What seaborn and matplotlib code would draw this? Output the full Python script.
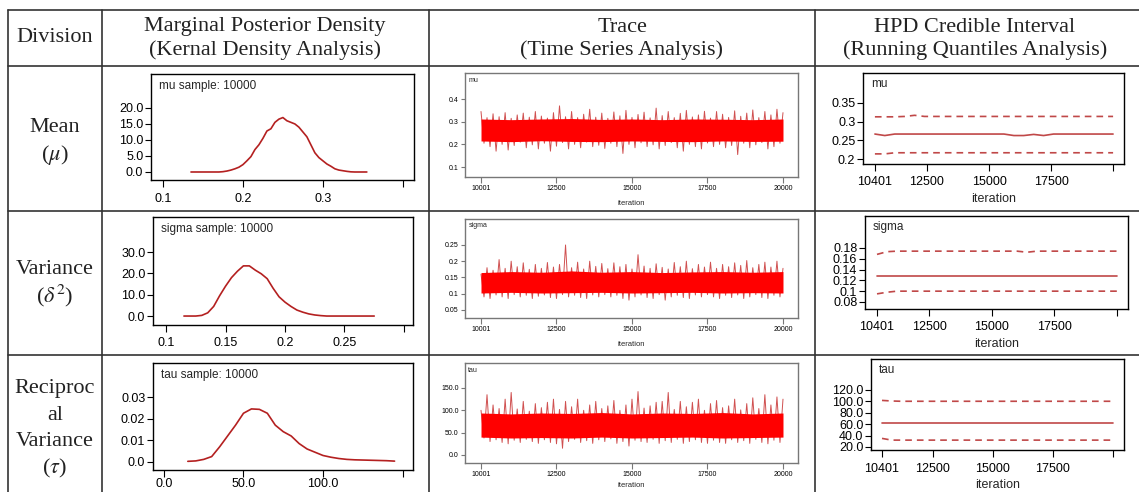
import numpy as np
import matplotlib
matplotlib.use("Agg")
import matplotlib.pyplot as plt
import seaborn as sns

W, H = 1139, 492

# ---- table text
head_division = "Division"
head_density = ["Marginal Posterior Density", "(Kernal Density Analysis)"]
head_trace = ["Trace", "(Time Series Analysis)"]
head_hpd = ["HPD Credible Interval", "(Running Quantiles Analysis)"]
row_labels = [["Mean", r"($\mu$)"],
              ["Variance", r"($\delta^2$)"],
              ["Reciproc", "al", "Variance", r"($\tau$)"]]
params = ["mu", "sigma", "tau"]
sample_size = 10000

# ---- kernel density curves (x range + density values on an even grid)
mu_dens_range = (0.135, 0.355)
mu_dens = [0, 0, 0, 0, 0, 0, 0, 0, 0.1, 0.3,
           0.6, 1.0, 1.5, 2.3, 3.5, 4.8, 7.0, 8.5, 10.5, 12.8,
           13.5, 15.5, 16.5, 17.0, 16.0, 15.5, 15.0, 14.0, 12.5, 11.0,
           8.5, 6.0, 4.5, 3.5, 2.5, 1.8, 1.0, 0.6, 0.4, 0.2,
           0.05, 0, 0, 0, 0]
sigma_dens_range = (0.115, 0.275)
sigma_dens = [0, 0, 0, 0.3, 1.5, 4.5, 9.5, 14.0, 18.0, 21.0,
              23.5, 23.5, 21.5, 19.8, 17.5, 13.0, 9.0, 6.5, 4.5, 2.8,
              1.8, 1.0, 0.5, 0.2, 0, 0, 0, 0, 0, 0,
              0, 0, 0]
tau_dens_range = (15, 145)
tau_dens = [0.0003, 0.0005, 0.0012, 0.0025, 0.007, 0.012, 0.017, 0.0225, 0.0245, 0.0243,
            0.0225, 0.017, 0.014, 0.012, 0.0085, 0.006, 0.0045, 0.003, 0.0022, 0.0016,
            0.0012, 0.001, 0.0009, 0.0008, 0.0007, 0.0006, 0.0004]

# ---- traces: thinned chain (every 100 iterations), alternating high / low draws
trace_iter = [10001] + list(range(10100, 20001, 100))
core_iter = [10001, 11000, 12000, 13000, 14000, 15000, 16000, 17000, 18000, 19000, 20000]
mu_peak = [0.345, 0.318, 0.335, 0.322, 0.34, 0.315, 0.33, 0.338, 0.32, 0.345,
           0.325, 0.316, 0.34, 0.37, 0.322, 0.345, 0.318, 0.333, 0.355, 0.32,
           0.338, 0.315, 0.343, 0.326, 0.35, 0.319, 0.332, 0.342, 0.317, 0.36,
           0.327, 0.345, 0.318, 0.337, 0.35, 0.321, 0.33, 0.346, 0.316, 0.345,
           0.333, 0.319, 0.348, 0.324, 0.338, 0.352, 0.318, 0.345, 0.33, 0.355,
           0.34]
mu_dip = [0.205, 0.19, 0.17, 0.2, 0.175, 0.195, 0.21, 0.185, 0.198, 0.18,
          0.205, 0.17, 0.192, 0.208, 0.18, 0.2, 0.185, 0.21, 0.19, 0.196,
          0.182, 0.205, 0.19, 0.16, 0.2, 0.185, 0.207, 0.19, 0.198, 0.18,
          0.195, 0.208, 0.185, 0.17, 0.2, 0.19, 0.18, 0.206, 0.19, 0.2,
          0.185, 0.195, 0.155, 0.205, 0.185, 0.198, 0.208, 0.18, 0.19, 0.205]
mu_core_lo = [0.215, 0.212, 0.216, 0.213, 0.212, 0.215, 0.213, 0.212, 0.215, 0.213, 0.214]
mu_core_hi = [0.312, 0.309, 0.312, 0.314, 0.31, 0.312, 0.309, 0.312, 0.311, 0.309, 0.312]

sigma_peak = [0.16, 0.18, 0.172, 0.205, 0.178, 0.2, 0.183, 0.195, 0.175, 0.19,
              0.178, 0.196, 0.182, 0.19, 0.25, 0.18, 0.197, 0.176, 0.2, 0.184,
              0.193, 0.177, 0.195, 0.183, 0.19, 0.176, 0.22, 0.185, 0.178, 0.192,
              0.181, 0.176, 0.196, 0.183, 0.2, 0.177, 0.19, 0.182, 0.197, 0.178,
              0.19, 0.183, 0.195, 0.187, 0.202, 0.18, 0.19, 0.197, 0.182, 0.2,
              0.178]
sigma_dip = [0.09, 0.085, 0.096, 0.09, 0.085, 0.097, 0.09, 0.095, 0.085, 0.092,
             0.096, 0.088, 0.085, 0.097, 0.09, 0.095, 0.088, 0.085, 0.096, 0.09,
             0.097, 0.09, 0.095, 0.085, 0.08, 0.09, 0.096, 0.088, 0.085, 0.097,
             0.08, 0.09, 0.095, 0.088, 0.085, 0.096, 0.09, 0.097, 0.09, 0.085,
             0.095, 0.088, 0.096, 0.085, 0.09, 0.097, 0.088, 0.085, 0.095, 0.09]
sigma_core_lo = [0.102, 0.104, 0.102, 0.103, 0.104, 0.102, 0.103, 0.104, 0.102, 0.103, 0.102]
sigma_core_hi = [0.165, 0.168, 0.166, 0.17, 0.166, 0.168, 0.165, 0.167, 0.168, 0.166, 0.168]

tau_peak = [100, 135, 112, 104, 125, 140, 103, 120, 98, 115,
            106, 118, 125, 102, 120, 108, 125, 100, 112, 120,
            104, 110, 122, 100, 112, 125, 142, 105, 110, 118,
            120, 140, 102, 120, 108, 118, 125, 100, 115, 122,
            106, 110, 125, 101, 115, 128, 104, 135, 112, 130,
            125]
tau_dip = [38, 30, 34, 28, 25, 33, 28, 35, 30, 26,
           34, 28, 25, 15, 30, 35, 28, 32, 26, 34,
           30, 36, 26, 30, 20, 33, 30, 28, 35, 26,
           32, 28, 35, 26, 30, 34, 28, 26, 33, 28,
           26, 34, 28, 32, 26, 35, 28, 25, 33, 28]
tau_core_lo = [40, 38, 39, 38, 40, 38, 39, 40, 38, 39, 40]
tau_core_hi = [94, 92, 94, 93, 95, 92, 94, 93, 95, 92, 94]

# ---- running quantiles (HPD)
hpd_iter = [10401, 10800, 11200, 11600, 12000, 12400, 12800, 13200, 13600, 14000,
            14400, 14800, 15200, 15600, 16000, 16400, 16800, 17200, 17600, 18000,
            18400, 18800, 19200, 19600, 20000]
mu_hpd_med = [0.267, 0.263, 0.267, 0.267, 0.267, 0.267, 0.267, 0.267, 0.267, 0.267,
              0.267, 0.267, 0.267, 0.267, 0.263, 0.263, 0.266, 0.263, 0.267, 0.267,
              0.267, 0.267, 0.267, 0.267, 0.267]
mu_hpd_up = [0.313, 0.313, 0.313, 0.314, 0.317, 0.314, 0.314, 0.314, 0.314, 0.314,
             0.314, 0.314, 0.314, 0.314, 0.314, 0.314, 0.314, 0.314, 0.314, 0.314,
             0.314, 0.314, 0.314, 0.314, 0.314]
mu_hpd_lo = [0.214, 0.214, 0.217, 0.217, 0.217, 0.217, 0.217, 0.217, 0.217, 0.217,
             0.217, 0.217, 0.217, 0.217, 0.217, 0.217, 0.217, 0.217, 0.217, 0.217,
             0.217, 0.217, 0.217, 0.217, 0.217]
sigma_hpd_med = [0.128] * 25
sigma_hpd_up = [0.168, 0.173, 0.174, 0.174, 0.174, 0.174, 0.174, 0.174, 0.174, 0.174,
                0.174, 0.174, 0.174, 0.174, 0.174, 0.172, 0.174, 0.174, 0.174, 0.174,
                0.174, 0.174, 0.174, 0.174, 0.174]
sigma_hpd_lo = [0.095, 0.098, 0.1, 0.1, 0.1, 0.1, 0.1, 0.1, 0.1, 0.1,
                0.1, 0.1, 0.1, 0.1, 0.1, 0.1, 0.1, 0.1, 0.1, 0.1,
                0.1, 0.1, 0.1, 0.1, 0.1]
tau_hpd_med = [62] * 25
tau_hpd_up = [101.5, 100.5, 100, 100, 100, 100, 100, 100, 100, 100,
              100, 100, 100, 100, 100, 100, 100, 100, 100, 100,
              100, 100, 100, 100, 100]
tau_hpd_lo = [35, 32, 32, 32, 32, 32, 32, 32, 32, 32,
              32, 32, 32, 32, 32, 32, 32, 32, 32, 32,
              32, 32, 32, 32, 32]

# ---- tick values / labels
dens_xticks = [[0.1, 0.2, 0.3, 0.4], [0.1, 0.15, 0.2, 0.25, 0.3], [0, 50, 100, 150]]
dens_xlabels = [["0.1", "0.2", "0.3", ""], ["0.1", "0.15", "0.2", "0.25", ""],
                ["0.0", "50.0", "100.0", ""]]
dens_yticks = [[0, 5, 10, 15, 20], [0, 10, 20, 30], [0, 0.01, 0.02, 0.03]]
dens_ylabels = [["0.0", "5.0", "10.0", "15.0", "20.0"], ["0.0", "10.0", "20.0", "30.0"],
                ["0.0", "0.01", "0.02", "0.03"]]
trace_xticks = [10001, 12500, 15000, 17500, 20000]
trace_yticks = [[0.1, 0.2, 0.3, 0.4], [0.05, 0.1, 0.15, 0.2, 0.25], [0, 50, 100, 150]]
trace_ylabels = [["0.1", "0.2", "0.3", "0.4"], ["0.05", "0.1", "0.15", "0.2", "0.25"],
                 ["0.0", "50.0", "100.0", "150.0"]]
hpd_xticks = [10401, 12500, 15000, 17500, 20000]
hpd_xlabels = ["10401", "12500", "15000", "17500", ""]
hpd_yticks = [[0.2, 0.25, 0.3, 0.35], [0.08, 0.1, 0.12, 0.14, 0.16, 0.18],
              [20, 40, 60, 80, 100, 120]]
hpd_ylabels = [["0.2", "0.25", "0.3", "0.35"], ["0.08", "0.1", "0.12", "0.14", "0.16", "0.18"],
               ["20.0", "40.0", "60.0", "80.0", "100.0", "120.0"]]

sns.set_style("ticks")
plt.rcParams["font.family"] = ["Liberation Sans", "DejaVu Sans"]
plt.rcParams["mathtext.fontset"] = "stix"
serif = ["Liberation Serif", "DejaVu Serif"]

fig = plt.figure(figsize=(W / 100, H / 100), dpi=100)
bg = fig.add_axes([0, 0, 1, 1])
bg.set_xlim(0, W)
bg.set_ylim(H, 0)
bg.axis("off")

# table grid
for y in [10, 66, 211, 355]:
    bg.plot([8, W], [y, y], color="#333333", lw=1.2)
for x in [8, 102, 429, 815]:
    bg.plot([x, x], [10, H], color="#333333", lw=1.2)

txt = dict(ha="center", va="center", fontsize=16, family=serif, color="#222222")
bg.text(55, 38, head_division, **txt)
for cx, lines in zip([265, 622, 975], [head_density, head_trace, head_hpd]):
    bg.text(cx, 27, lines[0], **txt)
    bg.text(cx, 50, lines[1], **txt)

row_text_y = [[128, 155], [270, 296], [388, 415, 442, 468]]
for labels, ys in zip(row_labels, row_text_y):
    for lab, y in zip(labels, ys):
        bg.text(55, y, lab, **txt)


def panel(l, t, r, b):
    return fig.add_axes([l / W, 1 - b / H, (r - l) / W, (b - t) / H])


def frame(ax, color, lw, size, tick_len, xpad=1.5):
    for s in ax.spines.values():
        s.set_visible(True)
        s.set_color(color)
        s.set_linewidth(lw)
    ax.tick_params(direction="out", length=tick_len, width=0.8, color=color,
                   labelsize=size, pad=1.5, labelcolor="black")
    ax.tick_params(axis="x", length=tick_len + 1, pad=xpad)
    ax.set_xlabel("")
    ax.set_ylabel("")


# ---- kernel density column
dens_boxes = [(151, 74, 414, 180), (153, 217, 413, 325), (153, 363, 413, 470)]
dens_xlim = [(0.085, 0.414), (0.089, 0.3076), (-6.9, 156.6)]
dens_ylim = [(-2.5, 30.6), (-4.2, 46.4), (-0.0037, 0.0457)]
dens_xpad = [4, 4, 0.5]
dens_data = [(mu_dens_range, mu_dens), (sigma_dens_range, sigma_dens), (tau_dens_range, tau_dens)]
for i, ((lo, hi), dens) in enumerate(dens_data):
    ax = panel(*dens_boxes[i])
    xs = np.linspace(lo, hi, len(dens))
    sns.lineplot(x=xs, y=dens, ax=ax, color="#b42020", lw=1.2)
    ax.set_xlim(*dens_xlim[i])
    ax.set_ylim(*dens_ylim[i])
    ax.set_xticks(dens_xticks[i], labels=dens_xlabels[i])
    ax.set_yticks(dens_yticks[i], labels=dens_ylabels[i])
    frame(ax, "black", 1.0, 9, 4, xpad=dens_xpad[i])
    ax.text(0.03, 1 - 12 / (dens_boxes[i][3] - dens_boxes[i][1]),
            f"{params[i]} sample: {sample_size}", transform=ax.transAxes,
            fontsize=8.5, va="center", ha="left")

# ---- trace column
trace_boxes = [(465, 73, 798, 177), (465, 219, 798, 318), (465, 363, 798, 463)]
trace_ylim = [(0.056, 0.515), (0.025, 0.33), (-18, 206)]
trace_data = [(mu_peak, mu_dip, mu_core_lo, mu_core_hi),
              (sigma_peak, sigma_dip, sigma_core_lo, sigma_core_hi),
              (tau_peak, tau_dip, tau_core_lo, tau_core_hi)]
for i, (peak, dip, clo, chi) in enumerate(trace_data):
    ax = panel(*trace_boxes[i])
    chain = np.empty(len(peak) + len(dip))
    chain[0::2] = peak
    chain[1::2] = dip
    sns.lineplot(x=trace_iter, y=chain, ax=ax, color="#d05050", lw=0.7, zorder=1)
    ax.fill_between(core_iter, clo, chi, color="#ff0000", lw=0, zorder=2)
    ax.set_xlim(9471, 20497)
    ax.set_ylim(*trace_ylim[i])
    ax.set_xticks(trace_xticks, labels=[str(t) for t in trace_xticks])
    ax.set_yticks(trace_yticks[i], labels=trace_ylabels[i])
    frame(ax, "#777777", 1.0, 5, 3)
    ax.set_xlabel("iteration", fontsize=5.5, labelpad=6 if i < 2 else 3)
    ax.text(0.01, 0.93, params[i], transform=ax.transAxes, fontsize=5,
            va="center", ha="left")

# ---- HPD column
hpd_boxes = [(863, 73, 1124, 164), (865, 216, 1128, 309), (871, 359, 1124, 450)]
hpd_xlim = [(9921, 20440), (9921, 20440), (9943, 20458)]
hpd_ylim = [(0.187, 0.43), (0.067, 0.239), (14.7, 174)]
hpd_data = [(mu_hpd_med, mu_hpd_up, mu_hpd_lo),
            (sigma_hpd_med, sigma_hpd_up, sigma_hpd_lo),
            (tau_hpd_med, tau_hpd_up, tau_hpd_lo)]
for i, (med, up, low) in enumerate(hpd_data):
    ax = panel(*hpd_boxes[i])
    sns.lineplot(x=hpd_iter, y=med, ax=ax, color="#c04848", lw=1.2)
    sns.lineplot(x=hpd_iter, y=up, ax=ax, color="#c04848", lw=1.2, linestyle=(0, (4, 3)))
    sns.lineplot(x=hpd_iter, y=low, ax=ax, color="#c04848", lw=1.2, linestyle=(0, (4, 3)))
    ax.set_xlim(*hpd_xlim[i])
    ax.set_ylim(*hpd_ylim[i])
    ax.set_xticks(hpd_xticks, labels=hpd_xlabels)
    ax.set_yticks(hpd_yticks[i], labels=hpd_ylabels[i])
    frame(ax, "black", 1.0, 9, 4, xpad=4)
    ax.set_xlabel("iteration", fontsize=9, labelpad=3)
    ax.text(0.03, 1 - 11 / (hpd_boxes[i][3] - hpd_boxes[i][1]), params[i],
            transform=ax.transAxes, fontsize=8.5, va="center", ha="left")

fig.savefig("out.png", dpi=100)
